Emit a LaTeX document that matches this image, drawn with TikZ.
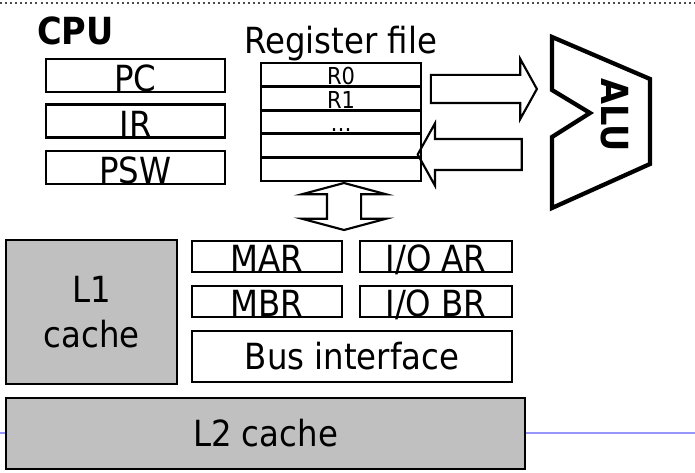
\documentclass[tikz,border=0pt]{standalone}
\usepackage{fontspec}
\setmainfont{DejaVu Sans}[FakeStretch=0.9]
\usepackage{tikz}
\usetikzlibrary{arrows.meta,positioning,shapes.arrows}
\definecolor{cachegray}{RGB}{192,192,192}
\definecolor{footblue}{RGB}{150,150,250}

\begin{document}
\begin{tikzpicture}[x=0.75pt,y=-0.75pt,
  regbox/.style={draw,line width=2pt,inner sep=0pt,outer sep=0pt,font=\fontsize{27}{30}\selectfont,text height=#1,text depth=0.3pt},
  regrow/.style={draw,line width=2pt,inner sep=0pt,outer sep=0pt,minimum width=120pt,font=\fontsize{17.5}{20}\selectfont,text height=16.2pt,text depth=1.5pt},
  plainbox/.style={draw,line width=2pt,inner sep=0pt,font=\fontsize{27}{30}\selectfont},
  cachebox/.style={draw,line width=2pt,fill=cachegray,inner sep=0pt,align=center,font=\fontsize{27}{33.75}\selectfont},
  fatarrow/.style={single arrow,draw,line width=1.6pt,inner xsep=0pt,single arrow tip angle=122,line join=miter}]
\useasboundingbox (0,0) rectangle (695,473);
% page decoration
\draw[black!70,line width=1.5pt,dash pattern=on 1.5pt off 2.3pt] (0,3) -- (695,3);
\draw[footblue,line width=1.5pt] (0,433) -- (695,433);
% CPU registers
\node[anchor=base west,inner sep=0pt,font=\bfseries\fontsize{28}{30}\selectfont] (cpu) at (37,45) {CPU};
\node[regbox=24.45pt,minimum width=134.25pt] (pc) at (135.5,75.5) {PC};
\node[regbox=24.45pt,minimum width=134.25pt] (ir) at (135.5,121) {IR};
\node[regbox=24.45pt,minimum width=134.25pt] (psw) at (135.5,167.5) {PSW};
% register file
\node[anchor=base west,inner sep=0pt,font=\fontsize{27}{30}\selectfont] (rflabel) at (244,54) {Register file};
\foreach \i/\lab in {0/R0,1/R1,2/\ldots,3/{},4/{}}
  \node[regrow] (r\i) at (341,74.8+23.6*\i) {\lab};
% ALU
\draw[line width=3.2pt,line join=miter] (552,37) -- (650,79) -- (650,164) -- (552,208) -- (552,137) -- (590,113) -- (552,90) -- cycle;
\node[rotate=-90,inner sep=0pt,font=\bfseries\fontsize{28}{30}\selectfont] (alu) at (615,115) {ALU};
\node[fatarrow,inner ysep=9.75pt,minimum width=43.5pt,minimum height=79.5pt,single arrow head extend=12pt] (toalu) at (480,89) {};
\node[fatarrow,rotate=180,inner ysep=10.8pt,minimum width=45pt,minimum height=78pt,single arrow head extend=11.7pt] (fromalu) at (474,154.5) {};
\node[double arrow,draw,line width=1.6pt,rotate=90,inner xsep=0pt,inner ysep=12pt,minimum width=61.5pt,minimum height=35.25pt,double arrow head extend=18.75pt,double arrow tip angle=150,line join=miter] (busarrow) at (344,206.5) {};
% caches and bus side
\node[cachebox,minimum width=128.25pt,minimum height=108pt] (lone) at (91.5,312) {L1\\cache};
\node[regbox=22.95pt,minimum width=112.5pt] (mar) at (267,256.5) {MAR};
\node[regbox=22.95pt,minimum width=112.5pt] (mbr) at (267,301.5) {MBR};
\node[regbox=22.95pt,minimum width=114pt] (ioar) at (436,256.5) {I/O AR};
\node[regbox=22.95pt,minimum width=114pt] (iobr) at (436,301.5) {I/O BR};
\node[plainbox,minimum width=240pt,minimum height=38.25pt] (bus) at (352,356.5) {Bus interface};
\node[cachebox,minimum width=389.25pt,minimum height=53.25pt] (ltwo) at (265.5,433.5) {L2 cache};
\end{tikzpicture}
\end{document}
